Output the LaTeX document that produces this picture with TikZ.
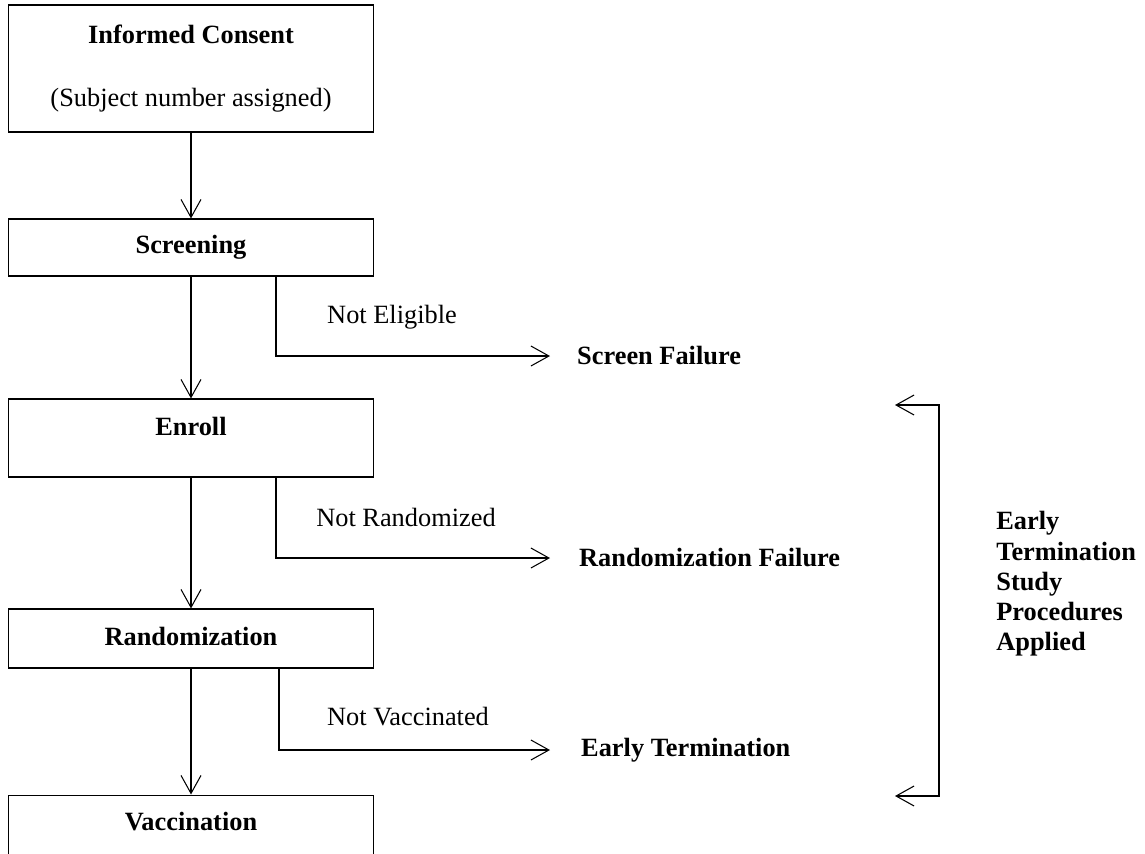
\documentclass[tikz,border=0pt]{standalone}
\usepackage{fontspec}
\setmainfont{Liberation Serif}
\usepackage{tikz}
\usetikzlibrary{arrows.meta}

\begin{document}
\begin{tikzpicture}[x=0.02cm, y=-0.02cm,
        box/.style={draw, line width=.6pt, minimum width=7.32cm, inner sep=0pt},
        txt/.style={font=\fontsize{15}{17.25}\selectfont},
        btxt/.style={font=\fontsize{15}{17.25}\selectfont\bfseries},
        arr/.style={-{Straight Barb[length=3.6mm, width=4mm]}, line width=.6pt}]
        \clip (0,0) rectangle (1145,853);

        % flow boxes
        \node[box, minimum height=2.54cm] at (191, 68.5)  (consent) {};
        \node[box, minimum height=1.14cm] at (191, 247.5) (screening) {};
        \node[box, minimum height=1.56cm] at (191, 438)   (enroll) {};
        \node[box, minimum height=1.18cm] at (191, 638.5) (random) {};
        \node[box, minimum height=2cm]    at (191, 845)   (vacc) {};

        \node[btxt] at (191, 34)  (consenttxt) {Informed Consent};
        \node[txt]  at (191, 100) (subjtxt) {(Subject number assigned)};
        \node[btxt] at (191, 247) (screeningtxt) {Screening};
        \node[btxt] at (191, 426) (enrolltxt) {Enroll};
        \node[btxt] at (191, 636) (randomtxt) {Randomization};
        \node[btxt] at (191, 822) (vacctxt) {Vaccination};

        % side outcomes
        \node[txt]  at (392, 317) (nelig) {Not Eligible};
        \node[txt]  at (406, 517) (nrand) {Not Randomized};
        \node[txt]  at (408, 717) (nvacc) {Not Vaccinated};
        \node[btxt, anchor=west] at (571, 356) (sfail) {Screen Failure};
        \node[btxt, anchor=west] at (573, 558) (rfail) {Randomization Failure};
        \node[btxt, anchor=west] at (575, 750) (eterm) {Early Termination};

        \draw [arr] (consent) -- (screening);
        \draw [arr] (screening) -- (enroll);
        \draw [arr] (enroll) -- (random);
        \draw [arr] (random) -- (vacc);
        \draw [arr, shorten >=0.42cm] ([xshift=1.7cm]screening.south) |- (sfail.west);
        \draw [arr, shorten >=0.46cm] ([xshift=1.7cm]enroll.south) |- (rfail.west);
        \draw [arr, shorten >=0.5cm] ([xshift=1.76cm]random.south) |- (eterm.west);

        % bracket on the right
        \coordinate (btop) at (895, 405);
        \coordinate (bbot) at (895, 796);
        \coordinate (bmid) at (939, 600);
        \draw [{Straight Barb[length=3.6mm, width=4mm]}-{Straight Barb[length=3.6mm, width=4mm]}, line width=.6pt]
            (btop) -| (bmid) |- (bbot);
        \node[btxt, anchor=west, align=left, inner sep=0pt] at (996, 584) (etsp)
            {Early\\Termination\\Study\\Procedures\\Applied};
    \end{tikzpicture}
\end{document}
